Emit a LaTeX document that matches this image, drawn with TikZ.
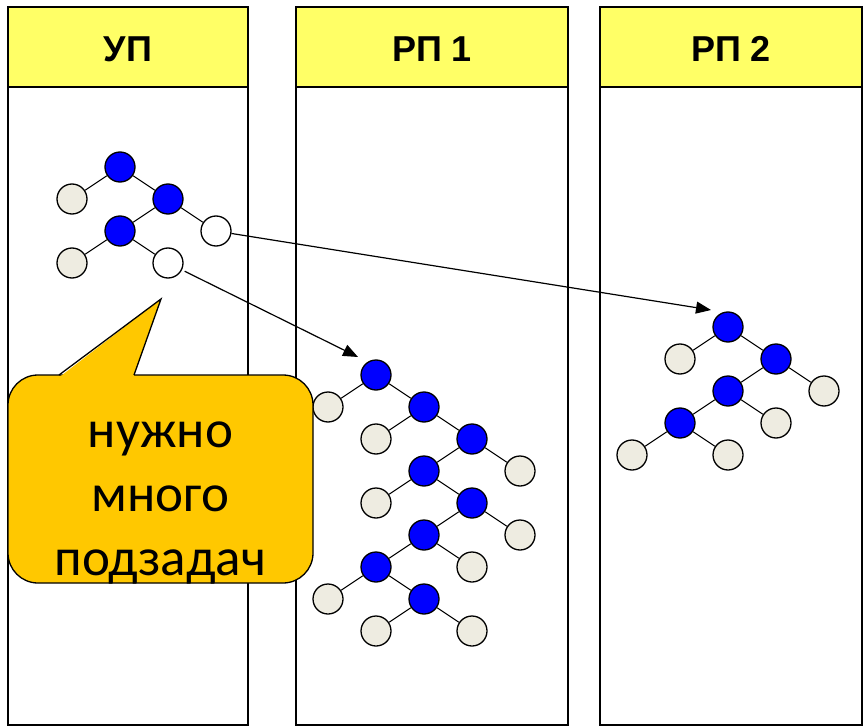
\documentclass[tikz,border=0pt]{standalone}
\usepackage{fontspec}
\setmainfont{Liberation Sans}
\newfontfamily\calloutfont{Carlito}
\usetikzlibrary{arrows.meta}
\definecolor{headyellow}{RGB}{255,255,102}
\definecolor{calloutgold}{RGB}{255,200,0}
\definecolor{leafgrey}{RGB}{238,236,225}
\tikzset{
  lane line/.style={draw=black, line width=1.6pt},
  lane title/.style={anchor=base, font=\bfseries\fontsize{36}{40}\selectfont},
  knot/.style={circle, draw=black, line width=1.3pt, minimum size=30pt, inner sep=0pt},
  busy/.style={knot, fill=blue},
  leaf/.style={knot, fill=leafgrey},
  idle/.style={knot, fill=white},
  edge/.style={line width=1pt},
  send/.style={line width=1.2pt, -{Triangle[length=15pt,width=12pt]}},
  hint box/.style={draw=black, line width=1.3pt, fill=calloutgold, rounded corners=30pt,
    minimum width=305pt, minimum height=208pt},
  hint text/.style={align=center, inner sep=0pt, font=\calloutfont\fontsize{53}{64}\selectfont}
}
\newcommand{\lane}[4]{\draw[lane line, fill=headyellow] (#2,7) rectangle (#3,87); \draw[lane line] (#2,87) rectangle (#3,725); \node[lane title] (#1) at ({(#2+#3)/2},62) {#4};}
\newcommand{\task}[3]{\node[leaf] (#1) at (#2,#3) {};}
\newcommand{\taskA}[3]{\node[busy] (#1) at (#2,#3) {};}
\newcommand{\taskB}[3]{\node[idle] (#1) at (#2,#3) {};}
\newcommand{\branch}[2]{\draw[edge] (#1) -- (#2);}
\begin{document}
\begin{tikzpicture}[x=1pt, y=-1pt]
        \useasboundingbox (0,0) rectangle (864,727);
        % lanes
        \lane{up}{8}{248}{УП}
        \lane{rp1}{296}{568}{РП 1}
        \lane{rp2}{600}{862}{РП 2}
        % master
        \taskA{u1}{120}{167}
        \task{u2}{72}{199}
        \taskA{u3}{168}{199}
        \taskA{u4}{120}{231}
        \taskB{u5}{216}{231}
        \task{u6}{72}{263}
        \taskB{u7}{168}{263}
        \branch{u1}{u2} \branch{u1}{u3}
        \branch{u3}{u4} \branch{u3}{u5}
        \branch{u4}{u6} \branch{u4}{u7}
        % worker 1
        \taskA{a1}{376}{375}
        \task{a2}{328}{407}
        \taskA{a3}{424}{407}
        \task{a4}{376}{439}
        \taskA{a5}{472}{439}
        \taskA{a6}{424}{471}
        \task{a7}{520}{471}
        \task{a8}{376}{503}
        \taskA{a9}{472}{503}
        \taskA{a10}{424}{535}
        \task{a11}{520}{535}
        \taskA{a12}{376}{567}
        \task{a13}{472}{567}
        \task{a14}{328}{599}
        \taskA{a15}{424}{599}
        \task{a16}{376}{631}
        \task{a17}{472}{631}
        \branch{a1}{a2} \branch{a1}{a3}
        \branch{a3}{a4} \branch{a3}{a5}
        \branch{a5}{a6} \branch{a5}{a7}
        \branch{a6}{a8} \branch{a6}{a9}
        \branch{a9}{a10} \branch{a9}{a11}
        \branch{a10}{a12} \branch{a10}{a13}
        \branch{a12}{a14} \branch{a12}{a15}
        \branch{a15}{a16} \branch{a15}{a17}
        % worker 2
        \taskA{b1}{728}{327}
        \task{b2}{680}{359}
        \taskA{b3}{776}{359}
        \taskA{b4}{728}{391}
        \task{b5}{824}{391}
        \taskA{b6}{680}{423}
        \task{b7}{776}{423}
        \task{b8}{632}{455}
        \task{b9}{728}{455}
        \branch{b1}{b2} \branch{b1}{b3}
        \branch{b3}{b4} \branch{b3}{b5}
        \branch{b4}{b6} \branch{b4}{b7}
        \branch{b6}{b8} \branch{b6}{b9}
        % sending
        \coordinate (toA) at (358,357);
        \coordinate (toB) at (711,310);
        \draw[send, shorten <=3pt] (u7) -- (toA);
        \draw[send] (u5) -- (toB);
        % callout
        \node[hint box] (hint) at (160.5,479) {};
        \coordinate (hintTip) at (161,299);
        \fill[calloutgold] (59.5,377) -- (hintTip) -- (133.5,377) -- cycle;
        \draw[line width=1.3pt, line join=miter] (59,375) -- (hintTip) -- (134,375);
        \node[hint text] (hintText) at (160.5,503) {нужно\\много\\подзадач};
\end{tikzpicture}
\end{document}
